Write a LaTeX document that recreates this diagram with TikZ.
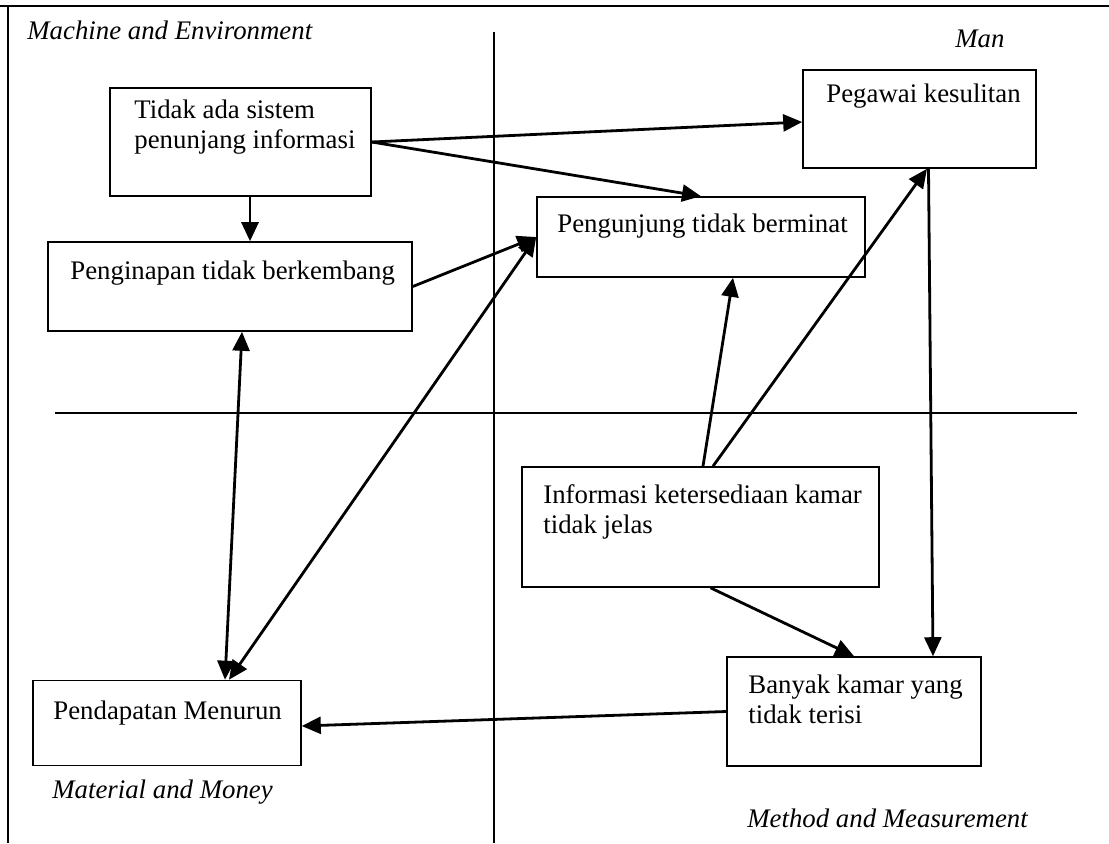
\documentclass[tikz,border=0pt]{standalone}
\usepackage{fontspec}
\setmainfont{Liberation Serif}
\usetikzlibrary{arrows.meta,calc}
\tikzset{
  boxnode/.style={draw, line width=0.8pt, inner sep=0pt, rectangle},
  txt/.style={anchor=base west, inner sep=0pt, font=\fontsize{13.4}{15}\selectfont},
  lbl/.style={anchor=base west, inner sep=0pt, font=\fontsize{13.4}{15}\selectfont\itshape},
  tipA/.tip={Triangle[length=9.5pt,width=8.5pt]},
  arr/.style={line width=1.4pt, -tipA},
  darr/.style={line width=1.4pt, tipA-tipA},
  axis/.style={line width=0.9pt},
}
\begin{document}
\begin{tikzpicture}[x=0.5pt,y=-0.5pt]
\useasboundingbox (0,0) rectangle (1109,843);
% frame
\coordinate (f0) at (0,6);
\coordinate (f1) at (330,6);
\coordinate (f2) at (1109,6);
\coordinate (l0) at (8,6);
\coordinate (l1) at (8,88);
\coordinate (l2) at (8,843);
\draw[line width=0.7pt] (f0) -- (f1);
\draw[line width=1.3pt] (f1) -- (f2);
\draw[line width=0.7pt] (l0) -- (l1);
\draw[line width=1.4pt] (l1) -- (l2);
% quadrant lines
\coordinate (v0) at (494,32);
\coordinate (v1) at (494,843);
\coordinate (h0) at (55,413);
\coordinate (h1) at (1077,413);
\draw[axis] (v0) -- (v1);
\draw[axis] (h0) -- (h1);
% labels
\node[lbl] (lme) at (27,39) {Machine and Environment};
\node[lbl] (lman) at (955,47) {Man};
\node[lbl] (lmm) at (52,798) {Material and Money};
\node[lbl] (lmeas) at (747,827) {Method and Measurement};
% boxes
\node[boxnode, minimum width=130.5pt, minimum height=54pt] (A) at (240.5,142) {};
\node[boxnode, minimum width=182pt, minimum height=44.5pt] (B) at (230,286.5) {};
\node[boxnode, minimum width=164pt, minimum height=40pt] (C) at (701,237) {};
\node[boxnode, minimum width=116.5pt, minimum height=49pt] (D) at (919.5,119) {};
\node[boxnode, minimum width=178.5pt, minimum height=60pt] (E) at (700.5,527) {};
\node[boxnode, minimum width=127pt, minimum height=54.5pt] (F) at (854,711.5) {};
\node[boxnode, minimum width=134pt, minimum height=42.5pt] (G) at (167,723) {};
% texts
\node[txt] (At) at (134,118) {\begin{tabular}[t]{@{}l@{}}Tidak ada sistem\\penunjang informasi\end{tabular}};
\node[txt] (Bt) at (70,279) {Penginapan tidak berkembang};
\node[txt] (Ct) at (557,232) {Pengunjung tidak berminat};
\node[txt] (Dt) at (826,102) {Pegawai kesulitan};
\node[txt] (Et) at (543,503) {\begin{tabular}[t]{@{}l@{}}Informasi ketersediaan kamar\\tidak jelas\end{tabular}};
\node[txt] (Ft) at (748,693) {\begin{tabular}[t]{@{}l@{}}Banyak kamar yang\\tidak terisi\end{tabular}};
\node[txt] (Gt) at (53,719) {Pendapatan Menurun};
% connectors
\draw[arr] (A.east) -- ([yshift=-1.5pt]D.west);
\draw[arr] (A.east) -- (C.north);
\draw[arr] ([xshift=4.75pt]A.south) -- ([xshift=4.75pt]A.south |- B.north);
\draw[arr] (B.east) -- (C.west);
\draw[darr] ([xshift=29pt]G.north) -- ([xshift=6pt]B.south);
\draw[darr] ([xshift=31pt]G.north) -- (C.west);
\draw[arr] ([xshift=1.25pt]E.north) -- ([xshift=16pt]C.south);
\draw[arr] ([xshift=6.25pt]E.north) -- ([xshift=3.75pt]D.south);
\draw[arr] ([xshift=4.5pt]D.south) -- ([xshift=39.5pt]F.north);
\draw[arr] ([xshift=5pt]E.south) -- (F.north);
\draw[arr] (F.west) -- ([yshift=-1.5pt]G.east);
\end{tikzpicture}
\end{document}
